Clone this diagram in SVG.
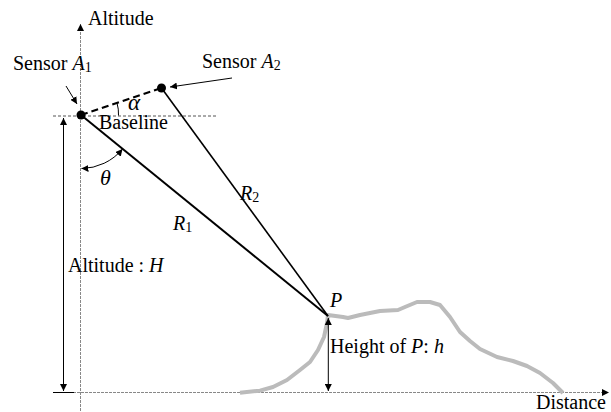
<svg xmlns="http://www.w3.org/2000/svg" width="611" height="412" viewBox="0 0 611 412" font-family="'Liberation Serif', 'Times New Roman', serif">
<style>
text{font-family:"Liberation Serif","Times New Roman",serif;font-size:20px;fill:#000}
.it{font-style:italic}
.axis{stroke:#888;stroke-width:1;stroke-dasharray:3,1;fill:none}
.thin{stroke:#000;stroke-width:1;fill:none}
</style>
<defs>
<marker id="ah" viewBox="0 0 10 10" refX="10" refY="5" markerWidth="7" markerHeight="7" orient="auto-start-reverse" markerUnits="userSpaceOnUse">
<path d="M0,0 L10,5 L0,10 z" fill="#000"/>
</marker>
</defs>
<g id="axes">
<line class="axis" x1="80.5" y1="24" x2="80.5" y2="412" marker-start="url(#ah)"/>
<line class="axis" x1="53" y1="392.5" x2="609" y2="392.5" marker-end="url(#ah)"/>
<line x1="53" y1="116" x2="218" y2="116" stroke="#555" stroke-width="1" stroke-dasharray="3,2"/>
<text x="88" y="25">Altitude</text>
<text x="606" y="409" text-anchor="end">Distance</text>
</g>
<g id="terrain">
<path d="M240,392.7 L260,390.7 L273,387 L287,380 L300,370 L310,362 L318,350 L324,337 L327,323 L328,315 L343,317 L348,318 L360,315 L380,311 L398,310 L405,307 L417,302 L430,302 L440,305 L450,317 L460,332 L470,341 L480,349 L497,357 L513,361 L527,366 L540,373 L553,383 L563,393" fill="none" stroke="#bbb" stroke-width="4" stroke-linejoin="round"/>
</g>
<g id="connectors">
<line x1="81" y1="115" x2="328" y2="316" stroke="#000" stroke-width="2"/>
<line x1="161.5" y1="88" x2="328" y2="316" stroke="#000" stroke-width="1.6"/>
<line x1="81" y1="115" x2="161.5" y2="88" stroke="#000" stroke-width="2.2" stroke-dasharray="7,4"/>
<line class="thin" x1="66" y1="86" x2="77" y2="104" marker-end="url(#ah)"/>
<line class="thin" x1="232" y1="78" x2="170" y2="87" marker-end="url(#ah)"/>
<line class="thin" x1="63.5" y1="118" x2="63.5" y2="391" marker-start="url(#ah)" marker-end="url(#ah)"/>
<line x1="53" y1="392.5" x2="74" y2="392.5" stroke="#000" stroke-width="1"/>
<line class="thin" x1="328.3" y1="318" x2="328.3" y2="391" marker-start="url(#ah)" marker-end="url(#ah)"/>
<path class="thin" d="M81.5,168.5 A54,54 0 0 0 122.5,149" marker-start="url(#ah)" marker-end="url(#ah)"/>
<path class="thin" d="M118.5,115.5 A38,38 0 0 0 117,103"/>
</g>
<g id="sensorA1">
<circle cx="81" cy="115" r="4.5" fill="#000"/>
<text x="13" y="70">Sensor <tspan class="it">A</tspan><tspan font-size="14" dy="2">1</tspan></text>
</g>
<g id="sensorA2">
<circle cx="161.5" cy="88" r="4.5" fill="#000"/>
<text x="202" y="68">Sensor <tspan class="it">A</tspan><tspan font-size="14" dy="2">2</tspan></text>
</g>
<g id="labels">
<text x="99" y="129" font-size="13">Baseline</text>
<text x="128" y="110" class="it" style="font-size:23px">α</text>
<text x="100" y="185" class="it" style="font-size:22px">θ</text>
<text x="173" y="230"><tspan class="it">R</tspan><tspan font-size="14" dy="2">1</tspan></text>
<text x="240" y="200"><tspan class="it">R</tspan><tspan font-size="14" dy="2">2</tspan></text>
<text x="68" y="272">Altitude : <tspan class="it">H</tspan></text>
<text x="330" y="307" class="it">P</text>
<text x="330" y="353">Height of <tspan class="it">P</tspan>: <tspan class="it">h</tspan></text>
</g>
</svg>
